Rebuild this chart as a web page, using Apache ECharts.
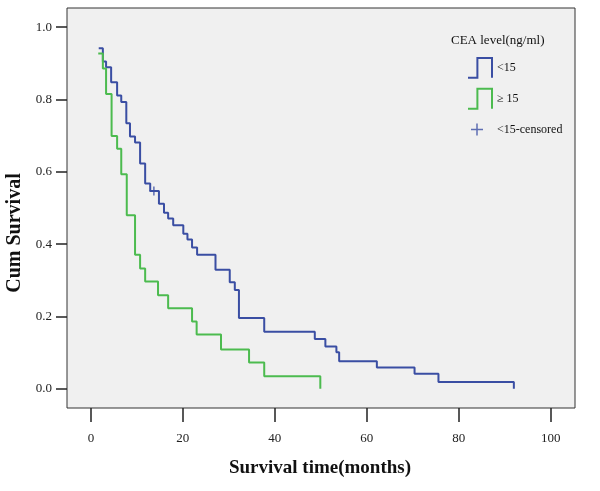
<!DOCTYPE html>
<html>
<head>
<meta charset="utf-8">
<script src="https://cdn.jsdelivr.net/npm/echarts@6/dist/echarts.min.js"></script>
<style>html,body{margin:0;padding:0;background:#fff;}#c{width:600px;height:491px;}</style>
</head>
<body>
<div id="c"></div>
<script>
// Kaplan-Meier steps: [time (months), cumulative survival after that time]
const lowCEA = [
  [1.7, 0.942], [2.6, 0.905], [3.3, 0.889], [4.4, 0.848], [5.7, 0.811], [6.6, 0.793],
  [7.7, 0.734], [8.5, 0.698], [9.6, 0.681], [10.7, 0.623], [11.8, 0.568], [12.9, 0.547],
  [14.8, 0.512], [15.9, 0.487], [16.8, 0.471], [17.9, 0.452], [20.1, 0.429], [21.0, 0.413],
  [22.0, 0.391], [23.1, 0.371], [27.1, 0.329], [30.2, 0.295], [31.3, 0.273], [32.2, 0.196],
  [37.7, 0.158], [48.7, 0.138], [51.0, 0.117], [53.4, 0.101], [54.0, 0.076], [62.2, 0.059],
  [70.4, 0.042], [75.6, 0.019], [92.0, 0.0]
];
const highCEA = [
  [1.6, 0.927], [2.6, 0.886], [3.3, 0.815], [4.5, 0.699], [5.7, 0.664], [6.6, 0.593],
  [7.8, 0.48], [9.6, 0.371], [10.7, 0.333], [11.8, 0.297], [14.6, 0.259], [16.8, 0.223],
  [22.0, 0.186], [23.0, 0.15], [28.3, 0.109], [34.4, 0.073], [37.7, 0.035], [49.9, 0.0]
];
const lowCensored = [[13.7, 0.547]];
const xTicks = [0, 20, 40, 60, 80, 100];
const yTicks = [0, 0.2, 0.4, 0.6, 0.8, 1.0];
const groupNames = ['<15', '\u2265 15', '<15-censored'];
const legendTitle = 'CEA level(ng/ml)';
const xTitle = 'Survival time(months)';
const yTitle = 'Cum Survival';

const BLUE = '#3a4ea3';
const GREEN = '#4cbb4f';
const FONT = 'Liberation Serif';
const stepIcon = 'path://M0,20 L9,20 L9,1 L23,1 L23,20';
const plusIcon = 'path://M0,0 M24,20 M9,4 L9,16 M3,10 L15,10';

const chart = echarts.init(document.getElementById('c'), null, {renderer: 'canvas'});
chart.setOption({
  animation: false,
  backgroundColor: '#ffffff',
  title: {
    text: legendTitle, left: 446, top: 29,
    textStyle: {fontFamily: FONT, fontSize: 13, fontWeight: 'normal', color: '#111'}
  },
  legend: {
    orient: 'vertical', left: 462, top: 52, itemWidth: 24, itemHeight: 20, itemGap: 9,
    textStyle: {fontFamily: FONT, fontSize: 12, color: '#111'},
    data: [
      {name: groupNames[0], icon: stepIcon, itemStyle: {color: 'transparent', borderColor: BLUE, borderWidth: 2}},
      {name: groupNames[1], icon: stepIcon, itemStyle: {color: 'transparent', borderColor: GREEN, borderWidth: 2}},
      {name: groupNames[2], icon: plusIcon, itemStyle: {color: 'transparent', borderColor: BLUE, borderWidth: 1.5}}
    ]
  },
  grid: {
    left: 67, right: 25, top: 8, bottom: 83,
    show: true, backgroundColor: '#f0f0f0', borderColor: '#333', borderWidth: 1
  },
  xAxis: {
    type: 'value', min: -5.2, max: 105.3,
    axisLine: {show: false, onZero: false},
    splitLine: {show: false},
    axisTick: {show: true, length: 14, customValues: xTicks, lineStyle: {color: '#222', width: 1.5}},
    axisLabel: {customValues: xTicks, margin: 24, fontFamily: FONT, fontSize: 13, color: '#222'}
  },
  yAxis: {
    type: 'value', min: -0.053, max: 1.053,
    axisLine: {show: false, onZero: false},
    splitLine: {show: false},
    axisTick: {show: true, length: 11, customValues: yTicks, lineStyle: {color: '#222', width: 1.5}},
    axisLabel: {customValues: yTicks, margin: 15, fontFamily: FONT, fontSize: 13, color: '#222',
      formatter: v => v.toFixed(1)}
  },
  graphic: [
    {type: 'text', x: 320, y: 459, style: {text: xTitle, font: 'bold 19px "Liberation Serif"', fill: '#111', align: 'center', verticalAlign: 'top'}},
    {type: 'text', x: 5, y: 233, rotation: Math.PI / 2, style: {text: yTitle, font: 'bold 20px "Liberation Serif"', fill: '#111', align: 'center', verticalAlign: 'top'}}
  ],
  series: [
    {name: groupNames[0], type: 'line', step: 'end', data: lowCEA, showSymbol: false,
      lineStyle: {color: BLUE, width: 2}, itemStyle: {color: BLUE}},
    {name: groupNames[1], type: 'line', step: 'end', data: highCEA, showSymbol: false,
      lineStyle: {color: GREEN, width: 2}, itemStyle: {color: GREEN}},
    {name: groupNames[2], type: 'scatter', data: lowCensored, symbol: 'path://M5,0 L5,10 M0,5 L10,5',
      symbolSize: 9, itemStyle: {color: 'transparent', borderColor: BLUE, borderWidth: 1.5}}
  ]
});
</script>
</body>
</html>
